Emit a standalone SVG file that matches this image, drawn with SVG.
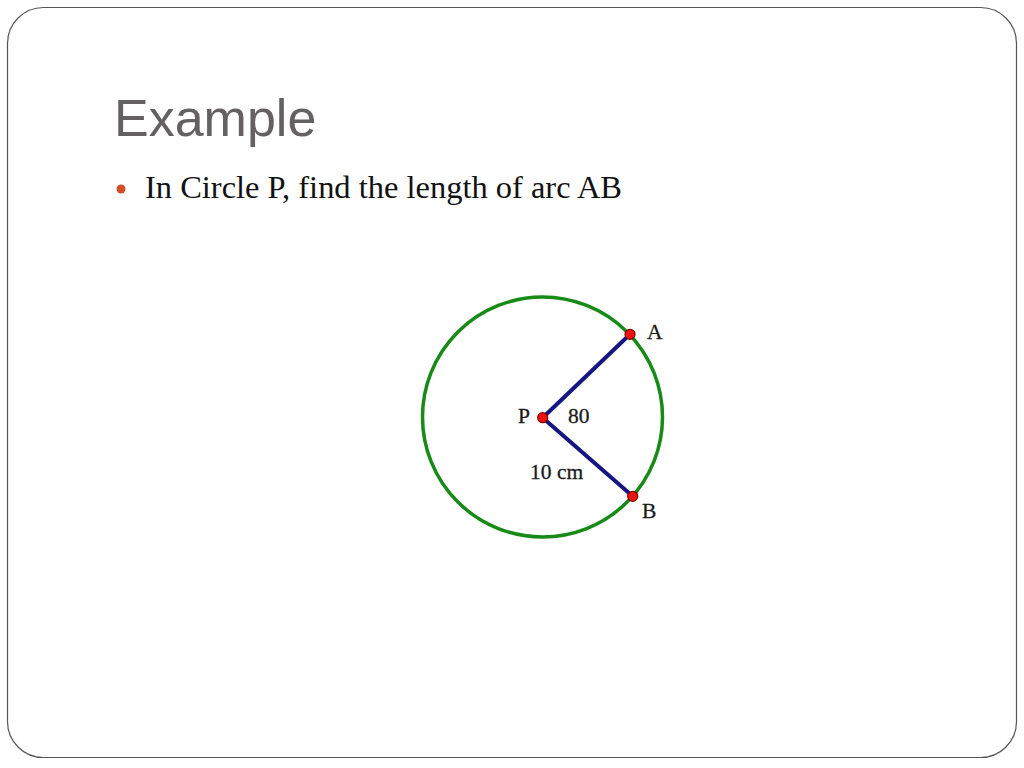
<svg xmlns="http://www.w3.org/2000/svg" width="1024" height="768" viewBox="0 0 1024 768">
  <style>
    .lbl { font-family: "Liberation Serif", "Times New Roman", serif; font-size: 21.5px; fill: #1a1a1a; stroke: #1a1a1a; stroke-width: 0.3; }
    .pt { fill: #ee1111; stroke: #8a0000; stroke-width: 1.2; }
    .seg { stroke: #161682; stroke-width: 4; stroke-linecap: round; fill: none; }
  </style>
  <rect width="1024" height="768" fill="#ffffff"/>
  <rect x="7.5" y="7.5" width="1009" height="750" rx="36" ry="36" fill="#ffffff" stroke="#555555" stroke-width="1.2"/>
  <text x="114" y="136" font-family="'Liberation Sans', Arial, sans-serif" font-size="52" fill="#656061">Example</text>
  <circle cx="121" cy="189" r="4.5" fill="#d24f26"/>
  <text x="145" y="198" font-family="'Liberation Serif', 'Times New Roman', serif" font-size="32" fill="#111111" textLength="477" lengthAdjust="spacingAndGlyphs">In Circle P, find the length of arc AB</text>

  <g id="circle">
    <circle cx="542.5" cy="417" r="120" fill="none" stroke="#178a17" stroke-width="3.5"/>
  </g>
  <g id="connectors">
    <line class="seg" x1="542.7" y1="417.7" x2="630" y2="334.3"/>
    <line class="seg" x1="542.7" y1="417.7" x2="632.7" y2="496.3"/>
  </g>
  <g id="node-P">
    <circle class="pt" cx="542.7" cy="417.7" r="5"/>
    <text class="lbl" x="518" y="423">P</text>
  </g>
  <g id="node-A">
    <circle class="pt" cx="630" cy="334.3" r="5"/>
    <text class="lbl" x="647" y="339">A</text>
  </g>
  <g id="node-B">
    <circle class="pt" cx="632.7" cy="496.3" r="5"/>
    <text class="lbl" x="642" y="518">B</text>
  </g>
  <g id="label-angle">
    <text class="lbl" x="568" y="423">80</text>
  </g>
  <g id="label-radius">
    <text class="lbl" x="530" y="479">10 cm</text>
  </g>
</svg>
